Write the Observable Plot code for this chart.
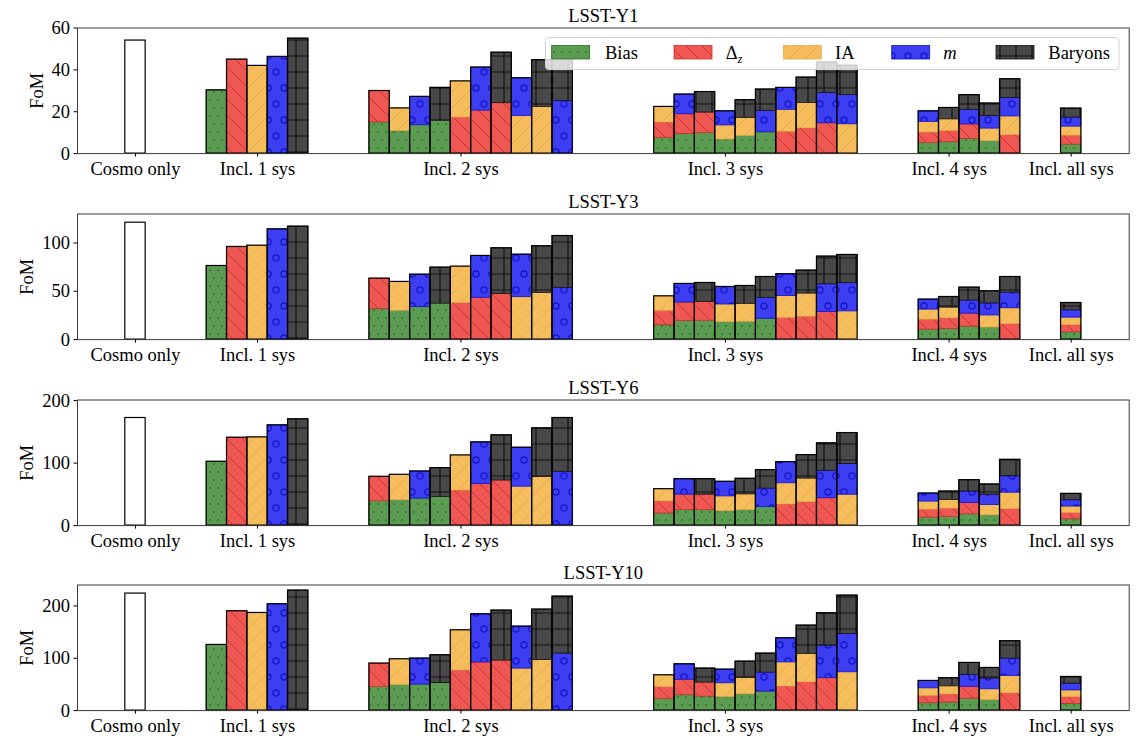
<!DOCTYPE html>
<html><head><meta charset="utf-8">
<script src="https://cdn.jsdelivr.net/npm/d3@7"></script>
<script src="https://cdn.jsdelivr.net/npm/@observablehq/plot@0.6"></script>
<style>
body{margin:0;background:#fff;}
#chart svg{display:block;}
</style></head><body>
<svg width="0" height="0" style="position:absolute"><defs id="pats"></defs></svg>
<div id="chart"></div>
<script>
// ---------- data ----------
const panelTitles = ["LSST-Y1", "LSST-Y3", "LSST-Y6", "LSST-Y10"];
const sysNames = ["Bias", "Δz", "IA", "m", "Baryons"];
const sysFill  = ["#5c9c52", "#ee5752", "#f5bd5c", "#3d3df2", "#484848"];
const sysHatch = ["#2d6e28", "#c9342f", "#e6ab4c", "#1212c8", "#111111"];
const groupLabels = ["Cosmo only", "Incl. 1 sys", "Incl. 2 sys", "Incl. 3 sys", "Incl. 4 sys", "Incl. all sys"];
const groupTicks  = [0, 6, 16, 29, 40, 46];
const groupStarts = [0, 4, 12, 26, 39, 46];
const yMax   = [60, 130, 201, 240];
const yTicks = [[0, 20, 40, 60], [0, 50, 100], [0, 100, 200], [0, 100, 200]];

const fomCosmo = [54.0, 121.0, 172.2, 223.6];
const fom1Sys = [
  [30.2, 44.9, 41.9, 46.2, 54.9],
  [76.2, 95.9, 97.2, 114.1, 116.9],
  [102.1, 140.6, 141.2, 160.4, 170.1],
  [125.5, 189.8, 186.6, 203.2, 229.3]
];
const fom2Sys = [
  [29.9, 21.6, 27.1, 31.4, 34.5, 41.1, 48.2, 36.0, 44.6, 50.3],
  [63.1, 59.7, 67.2, 74.5, 75.5, 86.6, 94.5, 87.9, 96.6, 107.2],
  [78.1, 81.3, 86.6, 92.0, 112.3, 133.2, 144.4, 124.6, 155.6, 172.2],
  [89.8, 98.1, 99.4, 105.7, 153.5, 184.1, 191.1, 160.5, 193.0, 217.8]
];
const fom3Sys = [
  [22.3, 28.2, 29.4, 20.2, 25.5, 30.6, 31.4, 36.3, 43.5, 42.0],
  [44.8, 57.6, 58.6, 54.5, 55.5, 64.8, 67.6, 71.4, 85.9, 87.6],
  [58.3, 74.3, 74.3, 70.1, 74.9, 88.8, 101.6, 112.8, 131.6, 148.1],
  [67.5, 88.5, 80.3, 78.3, 93.6, 108.9, 138.2, 162.4, 186.0, 219.7]
];
const fom4Sys = [
  [20.2, 21.8, 27.9, 23.9, 35.5],
  [41.4, 44.1, 53.8, 50.0, 64.8],
  [51.3, 54.5, 72.7, 65.8, 105.3],
  [56.7, 61.8, 91.1, 81.5, 132.5]
];
const fomAllSys = [21.5, 37.9, 50.8, 64.3];

// ---------- hatch patterns ----------
const defs = d3.select("#pats");
function pattern(id, w, h, fill) {
  const p = defs.append("pattern").attr("id", id).attr("patternUnits", "userSpaceOnUse")
    .attr("width", w).attr("height", h);
  p.append("rect").attr("width", w).attr("height", h).attr("fill", fill);
  return p;
}
let p0 = pattern("pat0", 8, 16, sysFill[0]);
p0.append("circle").attr("cx", 2).attr("cy", 4).attr("r", 0.9).attr("fill", sysHatch[0]);
p0.append("circle").attr("cx", 6).attr("cy", 12).attr("r", 0.9).attr("fill", sysHatch[0]);
let p1 = pattern("pat1", 16, 16, sysFill[1]);
p1.append("path").attr("d", "M0,0L16,16M-4,12L4,20M12,-4L20,4").attr("stroke", sysHatch[1]).attr("stroke-width", 1);
let p2 = pattern("pat2", 16, 16, sysFill[2]);
p2.append("path").attr("d", "M0,16L16,0M-4,4L4,-4M12,20L20,12").attr("stroke", sysHatch[2]).attr("stroke-width", 1);
let p3 = pattern("pat3", 16, 32, sysFill[3]);
p3.append("circle").attr("cx", 4).attr("cy", 8).attr("r", 3.1).attr("fill", "none").attr("stroke", sysHatch[3]).attr("stroke-width", 1.2);
p3.append("circle").attr("cx", 12).attr("cy", 24).attr("r", 3.1).attr("fill", "none").attr("stroke", sysHatch[3]).attr("stroke-width", 1.2);
let p4 = pattern("pat4", 16, 16, sysFill[4]);
p4.append("path").attr("d", "M0,8H16M8,0V16").attr("stroke", sysHatch[4]).attr("stroke-width", 1.2);

// ---------- helpers ----------
function combos(n, k) {
  const out = [];
  const rec = (s, cur) => {
    if (cur.length === k) { out.push(cur.slice()); return; }
    for (let i = s; i < n; i++) { cur.push(i); rec(i + 1, cur); cur.pop(); }
  };
  rec(0, []);
  return out;
}

const FONT = "'Liberation Serif', 'DejaVu Serif', serif";
const FS = "18.5px";
const H = 185.75, MT = 27.5, MB = H - MT - 125.6;
const chart = document.getElementById("chart");

panelTitles.forEach((title, p) => {
  const groups = [
    {start: groupStarts[0], sets: [[]], vals: [fomCosmo[p]]},
    {start: groupStarts[1], sets: combos(5, 1), vals: fom1Sys[p]},
    {start: groupStarts[2], sets: combos(5, 2), vals: fom2Sys[p]},
    {start: groupStarts[3], sets: combos(5, 3), vals: fom3Sys[p]},
    {start: groupStarts[4], sets: combos(5, 4), vals: fom4Sys[p]},
    {start: groupStarts[5], sets: combos(5, 5), vals: [fomAllSys[p]]}
  ];
  const bars = [], segs = [];
  groups.forEach(g => {
    g.sets.forEach((set, j) => {
      const x = g.start + j, total = g.vals[j];
      bars.push({x, total, k: set.length});
      set.forEach((s, i) => segs.push({x, sys: s, y1: total * i / set.length, y2: total * (i + 1) / set.length}));
    });
  });

  const plot = Plot.plot({
    width: 1140, height: H,
    marginLeft: 77, marginRight: 11.3, marginTop: MT, marginBottom: MB,
    style: {fontFamily: FONT, fontSize: FS, color: "#000", background: "white", overflow: "visible"},
    x: {domain: [-2.85, 48.85]},
    y: {domain: [0, yMax[p]]},
    marks: [
      ...sysNames.map((s, i) => Plot.rect(segs.filter(d => d.sys === i), {
        x1: d => d.x - 0.5, x2: d => d.x + 0.5, y1: "y1", y2: "y2",
        fill: `url(#pat${i})`, stroke: sysHatch[i], strokeWidth: 0.8
      })),
      Plot.rect(bars.filter(d => d.k === 0), {
        x1: d => d.x - 0.5, x2: d => d.x + 0.5, y1: d => 0, y2: "total",
        fill: "white", stroke: "black", strokeWidth: 1.2
      }),
      Plot.rect(bars.filter(d => d.k > 0), {
        x1: d => d.x - 0.5, x2: d => d.x + 0.5, y1: d => 0, y2: "total",
        fill: "none", stroke: "black", strokeWidth: 1.2
      }),
      Plot.frame({stroke: "#3a3a3a", strokeWidth: 1}),
      Plot.axisY({ticks: yTicks[p], tickSize: 3.5, tickPadding: 4, label: null}),
      Plot.axisX({ticks: groupTicks, tickFormat: d => groupLabels[groupTicks.indexOf(d)], tickSize: 3.5, tickPadding: 5, label: null}),
      Plot.text(["FoM"], {text: d => d, frameAnchor: "left", dx: p === 0 ? -40 : -50, rotate: -90, textAnchor: "middle", lineAnchor: "middle"}),
      Plot.text([title], {text: d => d, frameAnchor: "top", dy: -6, lineAnchor: "bottom"})
    ]
  });

  if (p === 0) {
    const svg = d3.select(plot);
    const lg = svg.append("g").attr("text-anchor", "start");
    lg.append("rect").attr("x", 545.5).attr("y", 37.5).attr("width", 573.5).attr("height", 32)
      .attr("rx", 3).attr("fill", "white").attr("fill-opacity", 0.8).attr("stroke", "#d0d0d0");
    const sw = [551.7, 674, 783.3, 891.7, 996];
    const tx = [605, 725.7, 835, 943.3, 1048.3];
    sysNames.forEach((s, i) => {
      lg.append("rect").attr("x", sw[i]).attr("y", 45.5).attr("width", 38).attr("height", 13.5)
        .attr("fill", `url(#pat${i})`).attr("stroke", sysHatch[i]).attr("stroke-width", 0.8);
      const t = lg.append("text").attr("x", tx[i]).attr("y", 58.5).attr("text-anchor", "start")
        .attr("font-family", FONT).attr("font-size", FS).attr("fill", "#000");
      if (i === 1) {
        t.append("tspan").text("Δ");
        t.append("tspan").text("z").attr("font-style", "italic").attr("font-size", "12.5px").attr("dy", 4);
      } else if (i === 3) {
        t.append("tspan").text("m").attr("font-style", "italic");
      } else {
        t.text(s);
      }
    });
  }
  chart.appendChild(plot);
});
</script>
</body></html>
